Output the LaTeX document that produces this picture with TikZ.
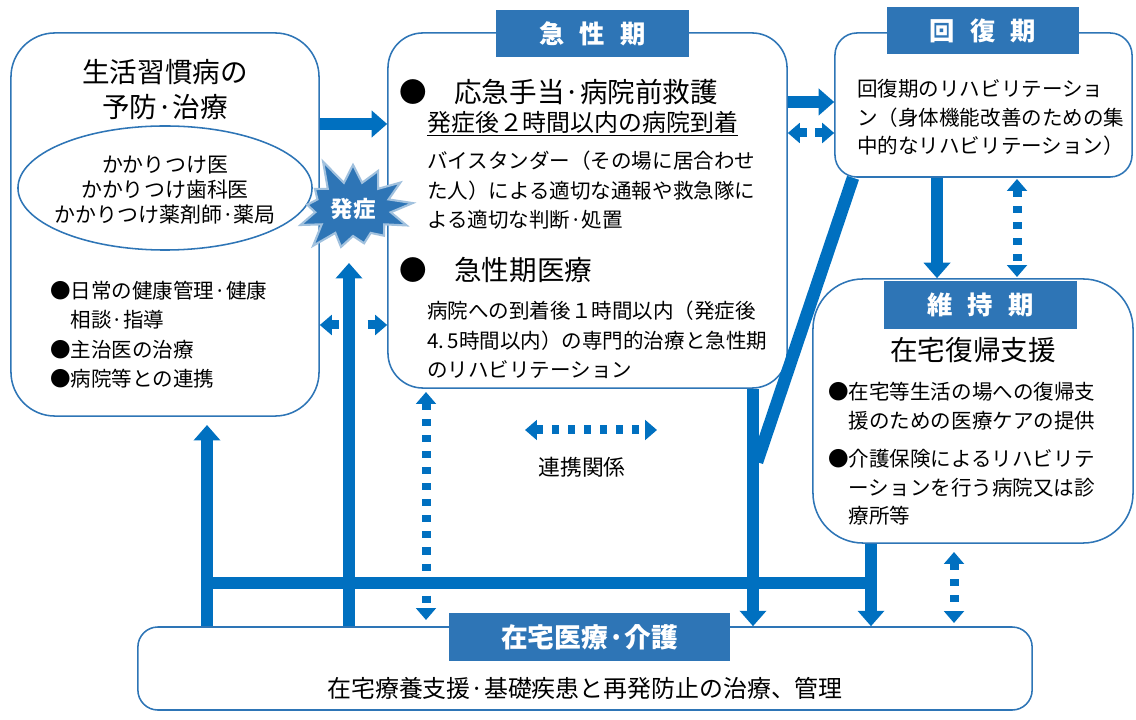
\documentclass[tikz,border=0pt]{standalone}
\usepackage{fontspec}
\setmainfont{Noto Sans CJK JP}
\usetikzlibrary{positioning,arrows.meta,shapes.geometric,shapes.symbols}

\definecolor{boxblue}{RGB}{46,117,182}
\definecolor{flowblue}{RGB}{0,112,192}

\begin{document}
\begin{tikzpicture}[x=0.025cm, y=-0.025cm,
    stage/.style={draw=boxblue, line width=1.1pt, fill=white, inner sep=0pt},
    tag/.style={fill=boxblue, text=white, inner sep=0pt, font=\bfseries\fontsize{18pt}{20pt}\selectfont},
    body/.style={inner sep=0pt, align=left, font=\fontsize{14.6pt}{21pt}\selectfont},
    head/.style={inner sep=0pt, align=center, font=\fontsize{19.6pt}{24.9pt}\selectfont},
    flow/.style={flowblue, line width=8.9pt},
    flowto/.style={flow, -{Triangle[width=18.5pt, length=11pt]}},
    link/.style={flowblue, line width=6.4pt, dash pattern=on 5pt off 6.4pt,
        {Triangle[width=14pt, length=8.5pt]}-{Triangle[width=14pt, length=8.5pt]}}]
    \useasboundingbox (0,0) rectangle (1136,720);

    % boxes
    \node[stage, rounded corners=1.1cm, minimum width=7.7cm, minimum height=9.575cm] (prev) at (165,224.5) {};
    \node[stage, rounded corners=0.875cm, minimum width=9.975cm, minimum height=8.875cm] (acute) at (587.5,210.5) {};
    \node[stage, rounded corners=0.55cm, minimum width=7.425cm, minimum height=3.6cm] (recov) at (983.5,105) {};
    \node[stage, rounded corners=1.25cm, minimum width=8cm, minimum height=6.6cm] (maint) at (973,411) {};
    \node[stage, rounded corners=0.5cm, minimum width=22.35cm, minimum height=2.075cm] (home) at (585,668.5) {};

    \node[tag, minimum width=4.825cm, minimum height=1.175cm] (acutetag) at (592.5,33.5) {急\hspace{0.6em}性\hspace{0.6em}期};
    \node[tag, minimum width=4.8cm, minimum height=1.175cm] (recovtag) at (983,30.5) {回\hspace{0.6em}復\hspace{0.6em}期};
    \node[tag, minimum width=4.825cm, minimum height=1.2cm] (mainttag) at (980.5,305) {維\hspace{0.6em}持\hspace{0.6em}期};
    \node[tag, minimum width=7.025cm, minimum height=1.2cm, font=\bfseries\fontsize{19pt}{20pt}\selectfont] (hometag) at (589.5,637) {在宅医療·介護};

    % prevention
    \node[head] (prevhead) at (165,89.5) {生活習慣病の\\予防·治療};
    \node[draw=boxblue, line width=1.1pt, ellipse, minimum width=7.35cm, minimum height=3.1cm] (clinic) at (165,188) {};
    \node[body, align=center, font=\fontsize{14.9pt}{17.8pt}\selectfont] (clinictext) at (165,190)
        {かかりつけ医\\かかりつけ歯科医\\かかりつけ薬剤師·薬局};
    \node[body, anchor=west] (prevlist) at (50,334.5)
        {●日常の健康管理·健康\\\hspace{1em}相談·指導\\●主治医の治療\\●病院等との連携};

    % acute
    \node[head, anchor=west] (aidhead) at (399,92) {●\quad 応急手当·病院前救護};
    \node[body, anchor=west, font=\fontsize{17pt}{20pt}\selectfont] (goldtime) at (427,124) {\underline{発症後２時間以内の病院到着}};
    \node[body, anchor=west] (aidtext) at (427,190.5)
        {バイスタンダー（その場に居合わせ\\た人）による適切な通報や救急隊に\\よる適切な判断·処置};
    \node[head, anchor=west] (carehead) at (399,270) {●\quad 急性期医療};
    \node[body, anchor=west] (caretext) at (427,340)
        {病院への到着後１時間以内（発症後\\4.\,5時間以内）の専門的治療と急性期\\のリハビリテーション};

    % recovery and maintenance
    \node[body, anchor=west, font=\fontsize{14.6pt}{20.3pt}\selectfont] (recovtext) at (857,117.5)
        {回復期のリハビリテーショ\\ン（身体機能改善のための集\\中的なリハビリテーション）};
    \node[head] (mainthead) at (973,350) {在宅復帰支援};
    \node[body, anchor=west] (maintcare) at (828,406)
        {●在宅等生活の場への復帰支\\\hspace{1em}援のための医療ケアの提供};
    \node[body, anchor=west, font=\fontsize{14.6pt}{20.3pt}\selectfont] (maintrehab) at (828,487.5)
        {●介護保険によるリハビリテ\\\hspace{1em}ーションを行う病院又は診\\\hspace{1em}療所等};

    \node[body, font=\fontsize{17pt}{20pt}\selectfont] (hometext) at (585,688) {在宅療養支援·基礎疾患と再発防止の治療、管理};
    \node[body, font=\fontsize{15.5pt}{18pt}\selectfont] (legend) at (582,467) {連携関係};

    % onset
    \node[starburst, fill=boxblue, draw=boxblue!45, line width=1.5pt, text=white, inner sep=0pt,
        minimum width=3.3cm, minimum height=2.75cm, starburst points=13, starburst point height=0.7cm,
        random starburst=5, font=\bfseries\fontsize{16pt}{16pt}\selectfont] (onset) at (353,209) {発症};

    % cooperation links
    \coordinate (acutefoot) at (426,392);
    \coordinate (homeleft) at (426,620);
    \coordinate (legendl) at (525,430);
    \coordinate (legendr) at (657,430);
    \coordinate (maintfoot) at (954,552);
    \coordinate (homeright) at (954,623);
    \coordinate (recovfoot) at (1017,179);
    \coordinate (mainttop) at (1017,277);
    \draw[link, dash pattern=on 6pt off 20pt] (prev.east |- 0,325) -- (acute.west |- 0,325);
    \draw[link, dash pattern=on 5.5pt off 6pt] (acute.east |- 0,133) -- (recov.west |- 0,133);
    \draw[link] (acutefoot) -- (homeleft);
    \draw[link] (legendl) -- (legendr);
    \draw[link] (maintfoot) -- (homeright);
    \draw[link] (recovfoot) -- (mainttop);

    % main flow
    \coordinate (onsetfoot) at (349,263);
    \coordinate (prevfoot) at (207,425);
    \coordinate (busl) at (207,583);
    \coordinate (busr) at (871,583);
    \coordinate (diagfoot) at (757,462);
    \draw[flowto] (prev.east |- 0,124) -- (acute.west |- 0,124);
    \draw[flowto] (acute.east |- 0,102) -- (recov.west |- 0,102);
    \draw[flowto] (recov.south -| 937,0) -- (maint.north -| 937,0);
    \draw[flowto] (home.north -| 349,0) -- (onsetfoot);
    \draw[flowto] (home.north -| 207,0) -- (prevfoot);
    \draw[flow] (busl) -- (busr);
    \draw[flowto] (acute.south -| 753,0) -- (home.north -| 753,0);
    \draw[flow] (recov.south -| 853,0) -- (diagfoot);
    \draw[flowto] (maint.south -| 871,0) -- (home.north -| 871,0);
\end{tikzpicture}
\end{document}
